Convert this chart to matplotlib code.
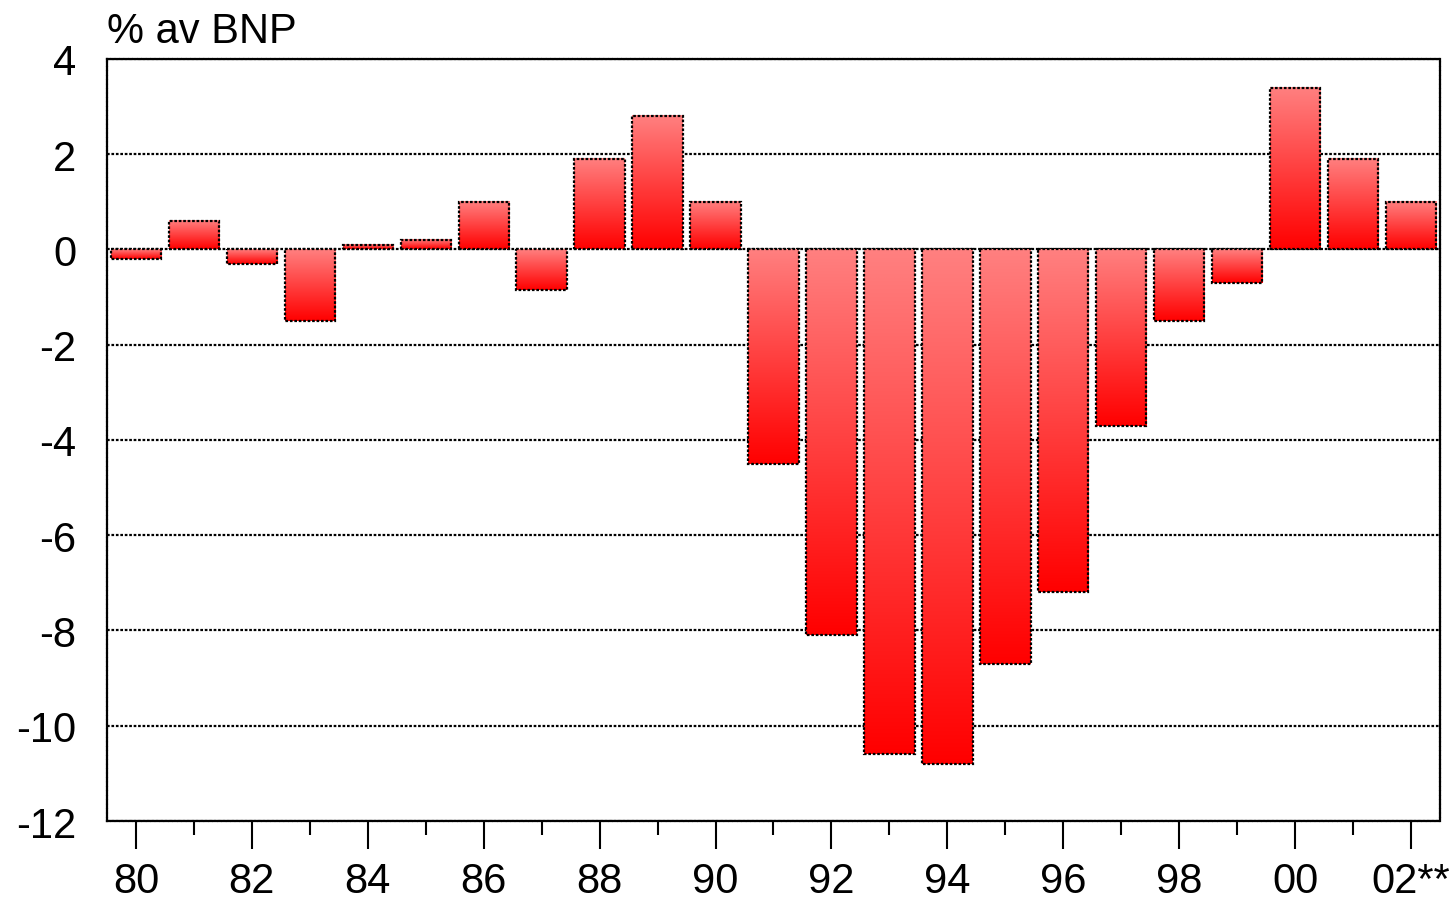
import matplotlib.pyplot as plt
import numpy as np
from matplotlib.colors import LinearSegmentedColormap

plt.rcParams['font.family'] = ['Liberation Sans', 'DejaVu Sans']
plt.rcParams['axes.unicode_minus'] = False

# budget balance, % of GDP
years = ['80', '81', '82', '83', '84', '85', '86', '87', '88', '89', '90', '91',
         '92', '93', '94', '95', '96', '97', '98', '99', '00', '01', '02**']
values = [-0.2, 0.6, -0.3, -1.5, 0.1, 0.2, 1.0, -0.85, 1.9, 2.8, 1.0, -4.5,
          -8.1, -10.6, -10.8, -8.7, -7.2, -3.7, -1.5, -0.7, 3.4, 1.9, 1.0]

fig = plt.figure(figsize=(14.52, 9.03), dpi=100)
ax = fig.add_axes([0.0737, 0.0897, 0.918, 0.8439])

x = np.arange(len(values))
width = 0.87
cmap = LinearSegmentedColormap.from_list('redgrad', ['#ff0000', '#ff8080'])
grad = np.linspace(0, 1, 256).reshape(-1, 1)
dots = (0, (1.2, 0.8))

bars = ax.bar(x, values, width, facecolor='none', edgecolor='black',
              linestyle=dots, linewidth=1.6, zorder=3)
for b in bars:
    x0 = b.get_x()
    y0 = min(b.get_y(), b.get_y() + b.get_height())
    y1 = max(b.get_y(), b.get_y() + b.get_height())
    ax.imshow(grad, cmap=cmap, origin='lower', aspect='auto',
              extent=(x0, x0 + b.get_width(), y0, y1), zorder=2,
              interpolation='bilinear')

ax.set_xlim(-0.5, 22.5)
ax.set_ylim(-12, 4)
ax.set_yticks(np.arange(-12, 5, 2))
ax.yaxis.grid(True, color='black', linestyle=dots, linewidth=1.6)
ax.set_axisbelow(True)
ax.tick_params(axis='y', length=0, labelsize=30, pad=22)

ax.set_xticks(x[::2])
ax.set_xticklabels(years[::2])
ax.set_xticks(x[1::2], minor=True)
ax.tick_params(axis='x', which='major', length=20, width=1.5, labelsize=30, pad=9)
ax.tick_params(axis='x', which='minor', length=10, width=1.5)

for s in ax.spines.values():
    s.set_linestyle(dots)
    s.set_linewidth(1.6)

ax.text(0, 1.01, '% av BNP', transform=ax.transAxes, fontsize=30,
        ha='left', va='bottom')

fig.savefig('out.png', dpi=100)
